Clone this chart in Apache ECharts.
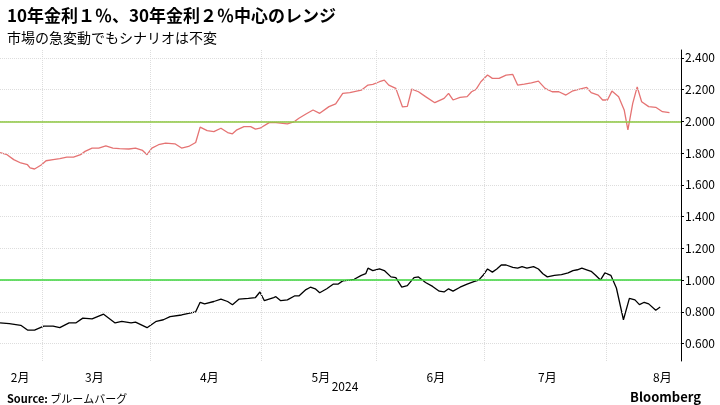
<!DOCTYPE html>
<html><head><meta charset="utf-8">
<script src="https://cdn.jsdelivr.net/npm/echarts@6/dist/echarts.min.js"></script>
<style>body{margin:0}#c{width:720px;height:405px}</style></head>
<body><div id="c"></div>
<script>
// x values are day-of-year 2024
const redDay=[35.6,37.5,39.3,41.2,43.0,43.7,44.9,46.8,48.0,49.9,51.7,53.6,55.4,57.3,58.5,60.4,62.2,64.1,66.0,67.8,70.3,72.1,74.0,75.2,76.5,78.3,80.2,82.7,84.5,86.4,88.3,89.5,91.4,93.2,95.1,96.9,98.2,99.4,101.3,103.1,104.4,105.6,108.1,109.9,113.0,114.9,116.1,118.0,119.9,121.7,124.2,126.0,127.9,129.8,132.9,134.7,136.0,137.8,139.1,140.3,142.2,144.0,145.3,146.5,148.3,150.2,152.7,155.2,156.4,157.6,159.5,161.4,162.6,163.8,165.1,166.9,168.2,170.0,171.9,173.7,175.0,176.8,178.7,180.6,182.4,184.3,186.1,188.0,189.9,191.7,193.6,194.8,196.7,197.9,199.2,200.4,202.2,203.7,204.7,206.0,207.2,208.4,210.3,212.2,214.0,215.9];
const redVal=[1.804,1.790,1.759,1.738,1.727,1.707,1.700,1.727,1.752,1.759,1.765,1.775,1.775,1.790,1.811,1.832,1.832,1.846,1.832,1.828,1.826,1.832,1.817,1.790,1.832,1.853,1.863,1.859,1.832,1.842,1.867,1.964,1.942,1.936,1.957,1.930,1.922,1.947,1.967,1.967,1.951,1.957,1.992,1.992,1.984,1.999,2.020,2.047,2.072,2.051,2.093,2.110,2.177,2.181,2.197,2.229,2.233,2.250,2.260,2.229,2.208,2.091,2.095,2.204,2.187,2.156,2.118,2.145,2.177,2.135,2.152,2.156,2.187,2.202,2.250,2.292,2.271,2.271,2.292,2.296,2.229,2.235,2.243,2.254,2.208,2.187,2.187,2.166,2.193,2.204,2.214,2.181,2.166,2.135,2.135,2.191,2.156,2.072,1.947,2.114,2.218,2.124,2.093,2.089,2.061,2.055];
const blkDay=[35.6,38.1,41.2,43.0,44.9,47.4,49.9,51.7,54.2,56.0,57.9,60.4,63.5,66.6,68.4,70.9,72.1,75.2,77.7,79.6,81.4,84.5,86.4,88.3,89.5,90.7,93.2,95.1,96.9,98.2,100.0,102.5,104.4,105.6,106.8,109.3,109.9,111.2,113.0,114.9,116.1,118.0,119.2,120.5,121.7,123.6,125.4,126.7,127.9,129.8,131.0,132.9,134.1,134.7,136.0,137.8,139.1,140.9,142.2,143.8,145.3,147.1,148.3,150.2,152.1,153.9,155.2,156.4,157.6,159.5,161.4,163.2,164.5,165.7,166.9,168.2,169.4,170.6,171.9,173.7,175.0,176.2,177.5,179.3,180.6,181.8,183.0,184.9,186.8,188.6,189.9,191.1,192.3,193.6,194.8,196.0,197.3,198.5,200.1,201.6,203.5,205.1,206.6,207.8,209.1,210.3,212.2,213.4];
const blkVal=[0.73,0.725,0.715,0.685,0.685,0.71,0.71,0.70,0.73,0.73,0.76,0.755,0.785,0.73,0.74,0.73,0.735,0.70,0.74,0.75,0.77,0.78,0.79,0.80,0.86,0.85,0.865,0.88,0.865,0.845,0.88,0.885,0.89,0.925,0.87,0.89,0.895,0.87,0.875,0.90,0.90,0.94,0.955,0.945,0.92,0.945,0.975,0.975,0.995,1.00,1.005,1.03,1.04,1.075,1.06,1.07,1.06,1.02,1.015,0.955,0.965,1.015,1.02,0.985,0.96,0.93,0.925,0.945,0.93,0.955,0.975,0.99,1.00,1.03,1.07,1.05,1.07,1.095,1.095,1.08,1.075,1.085,1.075,1.085,1.07,1.04,1.02,1.03,1.035,1.045,1.06,1.065,1.075,1.065,1.055,1.03,1.00,1.045,1.03,0.95,0.75,0.885,0.875,0.845,0.86,0.85,0.81,0.83];
const monthPos=[41,61,92,122,153,183,214];
const monthLbl=['2月','3月','4月','5月','6月','7月','8月'];
const gridDays=[47,76,106,137,166,199];
const yTicks=[0.6,0.8,1.0,1.2,1.4,1.6,1.8,2.0,2.2,2.4];
const refLines=[2.0,1.0];

const chart=echarts.init(document.getElementById('c'));
const F='"Noto Sans CJK JP","Noto Sans",sans-serif';
chart.setOption({
  animation:false,
  textStyle:{fontFamily:F},
  title:[{text:'10年金利１％、30年金利２％中心のレンジ',left:2,top:2,textStyle:{fontSize:17,fontWeight:'bold',color:'#000',fontFamily:F}},
    {text:'市場の急変動でもシナリオは不変',left:2,top:26,textStyle:{fontSize:14,fontWeight:'normal',color:'#000',fontFamily:F}},
    {text:'2024',left:340,top:375,textAlign:'center',textStyle:{fontSize:12,fontWeight:'normal',color:'#000'}},
    {text:'{b|Source:} ブルームバーグ',left:2,top:388,textStyle:{fontSize:11,fontWeight:'normal',color:'#000',rich:{b:{fontWeight:'bold',fontSize:11}}}},
    {text:'Bloomberg',right:14,top:386,textStyle:{fontSize:13,fontWeight:'bold',color:'#000'}}],
  grid:{left:0,right:39,top:50,bottom:44},
  xAxis:{type:'value',min:35.6,max:219,
    axisLine:{show:false},axisTick:{show:false},splitLine:{show:false},
    axisLabel:{customValues:monthPos,formatter:v=>monthLbl[monthPos.indexOf(v)],fontSize:12,color:'#000',margin:10}},
  yAxis:{type:'value',position:'right',min:0.49,max:2.45,
    axisLine:{show:true,lineStyle:{color:'#000'}},
    axisTick:{show:true,inside:false,length:3,customValues:yTicks,lineStyle:{color:'#000'}},
    axisLabel:{customValues:yTicks,formatter:v=>v.toFixed(3),fontSize:12,color:'#000',margin:4},
    splitLine:{show:false}},
  series:[
    {type:'line',data:redDay.map((d,i)=>[d,redVal[i]]),symbol:'none',lineStyle:{color:'#e57373',width:1.3},z:3,
      markLine:{silent:true,symbol:'none',label:{show:false},lineStyle:{color:'#ddd',type:'dotted',width:1},
        data:[...gridDays.map(d=>({xAxis:d})),...yTicks.map(v=>({yAxis:v}))]}},
    {type:'line',data:blkDay.map((d,i)=>[d,blkVal[i]]),symbol:'none',lineStyle:{color:'#000',width:1.3},z:3,
      markLine:{silent:true,symbol:'none',label:{show:false},
        data:[{yAxis:refLines[0],lineStyle:{color:'#8cc63f',type:'solid',width:1.5}},
              {yAxis:refLines[1],lineStyle:{color:'#3ad43a',type:'solid',width:1.5}}]}}
  ]
});
</script></body></html>
